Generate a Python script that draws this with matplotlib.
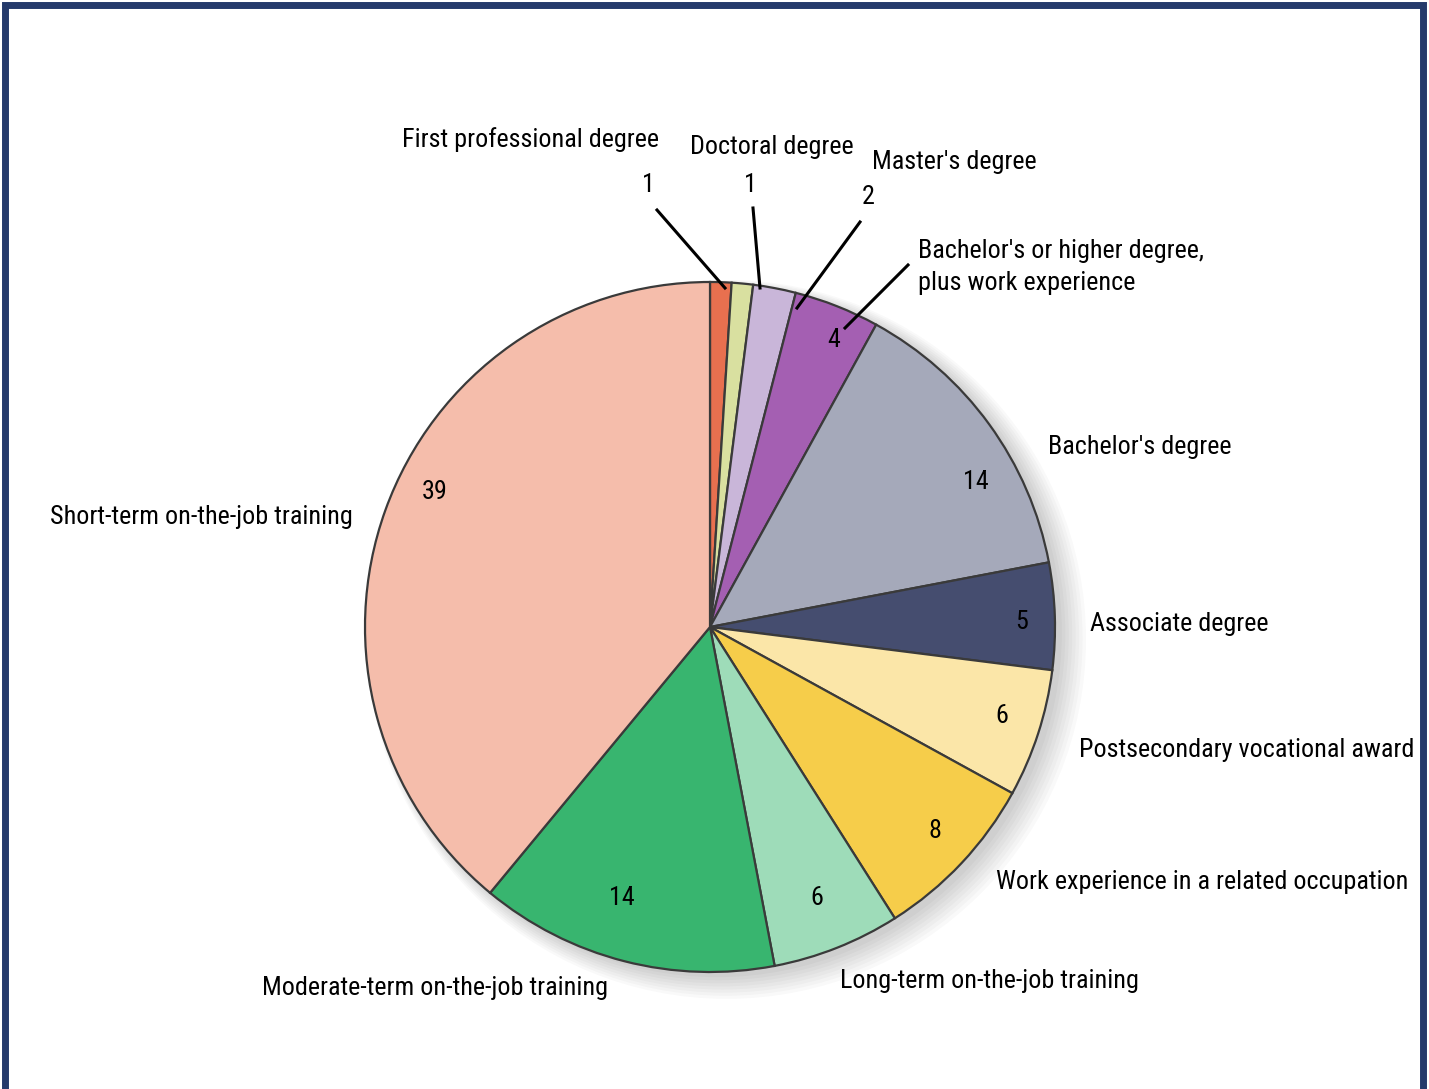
import matplotlib
matplotlib.use("Agg")
import matplotlib.pyplot as plt
from matplotlib.patches import Rectangle, Circle
import matplotlib.font_manager as fm

names = {f.name for f in fm.fontManager.ttflist}
fam = [n for n in ['Liberation Sans Narrow', 'DejaVu Sans Condensed', 'Roboto Condensed'] if n in names] + ['DejaVu Sans']
plt.rcParams['font.family'] = fam

categories = ["First professional degree", "Doctoral degree", "Master's degree",
              "Bachelor's or higher degree,\nplus work experience", "Bachelor's degree",
              "Associate degree", "Postsecondary vocational award",
              "Work experience in a related occupation", "Long-term on-the-job training",
              "Moderate-term on-the-job training", "Short-term on-the-job training"]
values = [1, 1, 2, 4, 14, 5, 6, 8, 6, 14, 39]
colors = ["#e8704f", "#d9e0a0", "#c9b6d9", "#a45fb2", "#a5a9ba", "#454d6f",
          "#fbe6a8", "#f6cd4a", "#9edcb9", "#38b56f", "#f5bdab"]

W, H = 1429, 1089
fig = plt.figure(figsize=(W / 100, H / 100), dpi=100)
fig.patch.set_facecolor("white")

# frame
fig.add_artist(Rectangle((5 / W, -0.01), (W - 11) / W, (H - 5) / H + 0.01,
                         transform=fig.transFigure, fill=False,
                         edgecolor="#243a6b", linewidth=5))

cx, cy, R = 710, 627, 345
ax = fig.add_axes([(cx - R) / W, (H - cy - R) / H, 2 * R / W, 2 * R / H])
ax.axis("off")

# soft shadow
for i in range(8):
    ax.add_patch(Circle((0.02 + 0.004 * i, -0.015 - 0.003 * i), 1.0 + 0.006 * i,
                        color="black", alpha=0.025, zorder=0, linewidth=0,
                        clip_on=False))

wedges, _ = ax.pie(values, colors=colors, startangle=90, counterclock=False,
                   radius=1.0, center=(0, 0),
                   wedgeprops=dict(edgecolor="#3a3a3a", linewidth=1.6))
for w in wedges:
    w.set_zorder(2)
    w.set_clip_on(False)
ax.set_xlim(-1, 1)
ax.set_ylim(-1, 1)
ax.set_aspect("equal")


def d(px, py):
    return ((px - cx) / R, (cy - py) / R)


fs = 18.8
# label positions (pixel coords in reference image)
lab_pos = [(530, 140, "center"), (772, 147, "center"), (872, 162, "left"),
           (918, 267, "left"), (1048, 447, "left"), (1090, 624, "left"),
           (1079, 750, "left"), (996, 882, "left"), (840, 981, "left"),
           (262, 988, "left"), (353, 517, "right")]
val_pos = [(648, 185), (750, 185), (868, 197), (834, 340), (976, 482), (1022, 622),
           (1002, 716), (935, 831), (817, 898), (622, 898), (435, 492)]

for cat, v, (lx, ly, ha), (vx, vy) in zip(categories, values, lab_pos, val_pos):
    x, y = d(lx, ly)
    ax.text(x, y, cat, ha=ha, va="center", fontsize=fs, clip_on=False, zorder=5,
            linespacing=1.45)
    x, y = d(vx, vy)
    ax.text(x, y, str(v), ha="center", va="center", fontsize=fs, clip_on=False, zorder=5)

leaders = [((657, 210), (725, 288)), ((753, 208), (760, 288)),
           ((860, 222), (797, 308)), ((908, 265), (845, 328))]
for (x0, y0), (x1, y1) in leaders:
    a, b = d(x0, y0)
    c, e = d(x1, y1)
    ax.plot([a, c], [b, e], color="black", linewidth=2.2, clip_on=False, zorder=6)

fig.savefig("out.png", dpi=100)
